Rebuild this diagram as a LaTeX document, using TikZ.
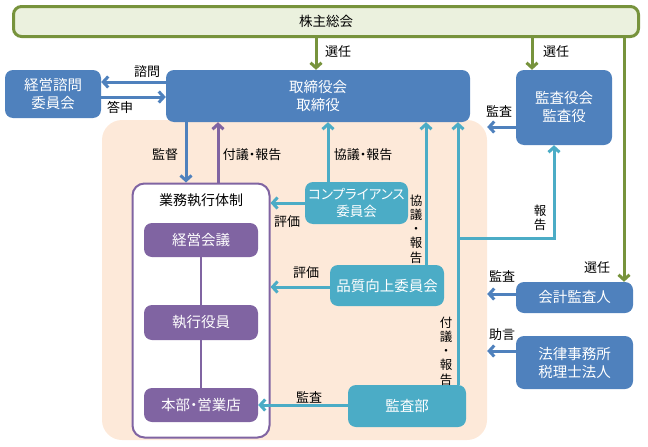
\documentclass[tikz,border=0pt]{standalone}
\usepackage{fontspec}
\newfontfamily\jp[RawFeature=+palt]{Noto Sans CJK JP}
\usetikzlibrary{arrows.meta, positioning, calc}
\definecolor{boardblue}{RGB}{79, 129, 189}
\definecolor{auditteal}{RGB}{75, 172, 198}
\definecolor{execpurple}{RGB}{128, 100, 162}
\definecolor{sharegreen}{RGB}{119, 147, 60}
\definecolor{lightgreen}{RGB}{235, 241, 222}
\definecolor{lightpeach}{RGB}{253, 233, 217}

\begin{document}
\begin{tikzpicture}[
    x=1pt, y=-1pt,
    font=\jp,
    bluebox/.style={
        fill=boardblue, rounded corners=8pt, align=center,
        text=white, font=\jp\fontsize{14.5}{18}\selectfont, inner sep=0pt
    },
    tealbox/.style={bluebox, fill=auditteal},
    purplebox/.style={bluebox, fill=execpurple, minimum width=114pt},
    lbl/.style={font=\jp\fontsize{13}{14}\selectfont, text=black, inner sep=0pt},
    vlbl/.style={lbl, align=center, font=\jp\fontsize{12.5}{14.2}\selectfont},
    bluearrow/.style={-{Straight Barb[length=5pt, width=11pt]}, boardblue, line width=3pt},
    tealarrow/.style={bluearrow, auditteal},
    purplearrow/.style={bluearrow, execpurple},
    greenarrow/.style={bluearrow, sharegreen}
]
\useasboundingbox (0,0) rectangle (648,447);

% BACKGROUND - company area
\node[fill=lightpeach, rounded corners=20pt, minimum width=385pt, minimum height=320pt,
      inner sep=0pt] (company) at (294.5,280) {};

% TOP - shareholders
\node[draw=sharegreen, line width=3pt, fill=lightgreen, rounded corners=8pt,
      minimum width=625pt, minimum height=30pt, inner sep=0pt,
      font=\jp\fontsize{13.5}{16}\selectfont] (share) at (326,21.5) {株主総会};

% BOARD row
\node[bluebox, minimum width=304pt, minimum height=52pt] (board) at (318,96) {取締役会\\取締役};
\node[bluebox, minimum width=96pt, minimum height=48pt] (advisory) at (53,94) {経営諮問\\委員会};
\node[bluebox, minimum width=96pt, minimum height=75pt] (auditors) at (564,107.5) {監査役会\\監査役};

% EXECUTION - purple frame
\node[draw=execpurple, line width=2pt, fill=white, rounded corners=12pt,
      minimum width=137pt, minimum height=254pt, inner sep=0pt] (exec) at (201,310.5) {};
\node[lbl, font=\jp\fontsize{14}{16}\selectfont] (exectitle) at (201,200) {業務執行体制};
\node[purplebox, minimum height=34pt] (meeting) at (201,240) {経営会議};
\node[purplebox, minimum height=35pt] (officers) at (201,322.5) {執行役員};
\node[purplebox, minimum height=34pt] (branches) at (201,405) {本部・営業店};
\draw[execpurple, line width=2pt] (meeting) -- (officers) -- (branches);

% COMMITTEES and internal audit
\node[tealbox, minimum width=103pt, minimum height=42pt,
      font=\jp\fontsize{13.5}{17}\selectfont] (compliance) at (356.5,203) {コンプライアンス\\委員会};
\node[tealbox, minimum width=114pt, minimum height=41pt] (quality) at (387,285.5) {品質向上委員会};
\node[tealbox, minimum width=118pt, minimum height=42pt] (internal) at (407,406) {監査部};

% RIGHT - outside parties
\node[bluebox, minimum width=117pt, minimum height=31pt] (accountant) at (574.5,297.5) {会計監査人};
\node[bluebox, minimum width=117pt, minimum height=53pt] (lawfirm) at (574.5,362.5) {法律事務所\\税理士法人};

% Green election arrows
\draw[greenarrow] ([xshift=-2pt]board.north |- share.south) -- ([xshift=-2pt]board.north);
\draw[greenarrow] ([xshift=-32pt]auditors.north |- share.south) -- ([xshift=-32pt]auditors.north);
\draw[greenarrow] ([xshift=49.5pt]accountant.north |- share.south) -- ([xshift=49.5pt]accountant.north);
\node[lbl] (elect1) at (338,52) {選任};
\node[lbl] (elect2) at (556,52) {選任};
\node[lbl] (elect3) at (597,268) {選任};

% Advisory committee
\draw[bluearrow] ([yshift=14pt]board.west) -- ([yshift=12pt]advisory.east);
\draw[bluearrow] ([yshift=-3pt]advisory.east) -- ([yshift=-1pt]board.west);
\node[lbl] (consult) at (147,72) {諮問};
\node[lbl] (answer) at (120,107) {答申};

% Board <-> execution
\draw[bluearrow] ([xshift=-15pt]exec.north |- board.south) -- ([xshift=-15pt]exec.north);
\draw[purplearrow] ([xshift=17pt]exec.north) -- ([xshift=17pt]exec.north |- board.south);
\node[lbl] (supervise) at (165,155) {監督};
\node[lbl] (report1) at (252,155) {付議・報告};

% Committees -> board and execution
\draw[tealarrow] ([xshift=-28.5pt]compliance.north) -- ([xshift=-28.5pt]compliance.north |- board.south);
\node[lbl] (report2) at (363,155) {協議・報告};
\draw[tealarrow] ([xshift=39pt]quality.north) -- ([xshift=39pt]quality.north |- board.south);
\node[vlbl] (report3) at (416,229) {協\\議\\・\\報\\告};
\draw[tealarrow] (compliance.west) -- (compliance.west -| exec.east);
\node[lbl] (eval1) at (287,222) {評価};
\draw[tealarrow] ([yshift=-1.5pt]quality.west) -- ([yshift=-1.5pt]quality.west -| exec.east);
\node[lbl] (eval2) at (306,273) {評価};

% Internal audit
\draw[tealarrow] ([xshift=51pt]internal.north) -- ([xshift=51pt]internal.north |- board.south);
\node[vlbl] (report4) at (446,351) {付\\議\\・\\報\\告};
\coordinate (branch) at ([xshift=51pt]internal.north |- 0,238);
\draw[tealarrow] (branch) -| ([xshift=-10pt]auditors.south);
\node[vlbl] (report5) at (540,218) {報\\告};
\draw[tealarrow] ([yshift=1pt]internal.west) -- ([yshift=1pt]internal.west -| branches.east);
\node[lbl] (audit1) at (309,397) {監査};

% Outside parties -> company
\coordinate (a1) at ([yshift=-19.5pt]auditors.west);
\draw[bluearrow] (a1) -- (a1 -| company.east);
\node[lbl] (audit2) at (499,111) {監査};
\coordinate (a2) at ([yshift=3.5pt]accountant.west);
\draw[bluearrow] (a2) -- (a2 -| company.east);
\node[lbl] (audit3) at (502,276) {監査};
\coordinate (a3) at ([yshift=11.5pt]lawfirm.west);
\draw[bluearrow] (a3) -- (a3 -| company.east);
\node[lbl] (advice) at (502,335) {助言};

\end{tikzpicture}
\end{document}
